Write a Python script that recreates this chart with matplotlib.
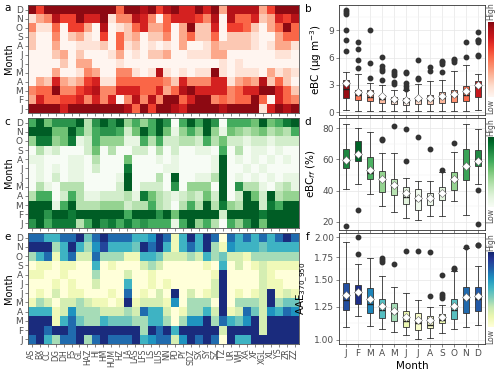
import numpy as np
import matplotlib
matplotlib.use("Agg")
import matplotlib.pyplot as plt
from matplotlib.colors import Normalize

sites = ["AS", "BX", "CC", "DG", "DH", "FS", "GL", "HAZ", "HJ", "HM", "HUM", "HZ",
         "LA", "LAS", "LFS", "LS", "LUS", "NN", "PD", "PY", "SDZ", "SX", "SY", "SZ",
         "TZ", "UR", "WH", "XA", "XF", "XGL", "XL", "YS", "ZR", "ZZ"]
months = ["J", "F", "M", "A", "M", "J", "J", "A", "S", "O", "N", "D"]

# heatmap intensity levels (0 = low ... 9 = high), rows listed Dec -> Jan
ebc_levels = [
    [9,6,9,9,9,9,9,9,9,9,9,5,9,9,8,9,6,8,9,7,7,9,7,9,3,8,8,8,8,3,6,9,9,9],
    [1,3,4,8,6,6,9,7,7,9,1,4,4,8,7,4,0,5,7,7,7,6,4,8,0,8,5,5,7,2,3,7,6,8],
    [4,1,1,5,0,6,6,3,0,8,0,1,2,5,7,3,3,5,0,3,9,2,2,7,0,6,6,5,2,0,3,5,9,5],
    [2,0,0,4,0,2,3,1,0,6,0,5,2,3,0,2,2,4,0,3,5,2,2,5,0,2,2,2,1,0,0,3,5,5],
    [2,0,0,3,0,0,1,1,1,2,0,5,1,2,0,1,0,1,0,3,0,0,1,3,2,2,2,2,1,0,1,3,3,1],
    [0,0,0,2,3,0,2,0,0,0,1,3,0,1,0,2,2,3,0,0,1,1,1,3,3,0,0,0,0,0,0,1,1,0],
    [0,0,0,0,2,0,3,3,0,0,0,1,0,0,0,0,0,0,0,0,0,0,0,0,1,0,1,0,0,0,0,0,0,0],
    [0,0,0,3,0,0,1,4,3,0,0,4,4,1,0,1,8,1,0,1,0,1,1,9,1,0,1,1,1,0,3,1,2,1],
    [0,3,2,7,3,2,3,6,7,1,1,5,5,5,5,5,5,4,2,7,4,4,4,7,7,1,3,4,3,8,2,5,2,0],
    [4,5,5,9,4,4,6,7,8,4,4,7,7,7,5,5,7,3,5,8,9,7,7,7,7,4,5,7,7,9,9,7,5,2],
    [3,7,5,5,6,6,7,4,7,4,7,0,4,8,4,8,4,9,9,5,7,9,9,4,5,4,5,5,9,5,0,7,5,4],
    [9,9,9,9,7,9,9,9,9,9,9,9,8,5,9,6,9,9,8,7,9,9,9,9,8,9,9,9,9,1,7,9,8,9],
]
ff_levels = [
    [6,9,5,7,7,7,9,3,7,9,7,9,4,6,4,6,9,7,0,6,9,6,9,7,0,6,6,6,5,9,5,6,8,9],
    [9,9,9,5,5,9,6,3,6,7,7,6,2,5,9,6,9,5,1,4,6,4,9,4,1,5,4,3,4,5,3,4,3,6],
    [4,8,8,4,5,8,1,2,6,4,4,4,1,1,6,3,6,2,2,3,3,2,6,3,5,2,2,1,2,2,1,2,2,2],
    [0,3,1,2,0,0,0,2,5,0,3,0,0,2,2,0,3,0,2,0,0,1,1,0,6,0,3,0,1,1,0,1,0,0],
    [1,1,0,0,0,1,1,0,3,0,0,0,5,0,0,0,1,0,1,0,0,0,0,1,9,0,1,0,1,0,1,0,1,0],
    [0,1,0,1,0,1,1,0,2,0,0,0,8,0,0,0,0,1,1,0,0,0,0,1,9,0,0,1,0,1,0,0,0,0],
    [0,1,0,2,0,1,1,0,0,0,0,1,9,0,0,0,3,0,9,0,0,1,1,3,9,0,1,0,1,0,1,0,1,1],
    [0,3,1,0,3,3,3,0,0,0,0,2,9,0,2,2,2,0,7,0,4,4,4,0,9,0,7,3,3,1,0,2,3,1],
    [3,6,6,0,2,6,3,1,1,2,2,2,3,1,8,5,3,2,1,2,3,2,5,2,9,0,2,9,5,2,9,3,4,4],
    [9,9,9,1,6,9,3,3,3,4,4,4,2,3,3,6,3,2,0,3,6,3,9,3,8,4,3,9,9,2,8,6,9,9],
    [9,9,7,9,9,8,9,9,9,9,9,9,6,9,9,9,7,9,5,9,9,9,9,9,2,9,9,9,9,8,9,9,9,9],
    [7,9,6,8,8,8,3,6,9,7,8,6,8,6,7,6,6,6,1,6,9,4,6,3,0,6,4,7,9,5,9,9,9,9],
]
aae_levels = [
    [7,7,5,5,7,7,9,4,7,9,7,7,7,5,5,6,9,7,1,5,9,5,9,7,0,7,5,7,5,7,5,7,9,7],
    [9,9,9,3,5,9,5,3,6,8,5,5,5,4,9,7,9,5,1,5,7,5,9,3,1,6,5,5,5,4,5,5,5,5],
    [3,5,7,1,5,7,2,2,7,3,3,3,1,1,5,5,4,2,2,2,3,2,5,3,4,2,2,1,3,3,3,3,3,3],
    [0,1,1,0,1,1,0,0,5,0,1,0,0,0,2,3,2,0,0,0,0,0,1,0,5,0,2,0,1,2,1,1,1,1],
    [1,1,0,0,1,0,0,0,3,0,0,0,2,0,0,1,0,0,0,0,0,0,0,1,9,0,0,0,0,2,1,0,0,0],
    [0,0,0,1,0,1,0,0,2,0,0,0,5,0,0,1,0,1,0,0,0,0,0,2,9,0,0,0,0,2,1,1,0,0],
    [0,1,0,2,0,1,1,0,0,0,1,0,7,0,1,0,2,0,9,0,2,0,1,2,9,0,1,0,1,2,9,1,2,1],
    [1,3,2,0,2,2,3,2,1,1,0,1,9,1,2,2,2,1,6,0,3,3,3,0,9,0,3,3,3,2,9,3,4,4],
    [5,5,5,1,2,6,3,3,3,2,2,2,3,2,7,5,5,2,0,1,3,3,5,2,9,1,2,7,4,2,6,5,7,6],
    [9,9,9,1,5,7,4,3,3,5,4,4,4,3,3,5,5,3,0,3,6,6,9,3,7,5,4,6,9,2,9,9,9,9],
    [9,9,7,9,9,7,9,9,9,9,9,9,9,9,3,9,7,9,5,9,9,9,9,9,2,9,9,9,9,2,9,9,9,9],
    [7,9,5,3,7,7,9,3,7,9,7,7,7,9,5,6,7,7,2,6,9,7,9,7,0,9,5,5,9,9,9,9,9,9],
]

# monthly box statistics, Jan -> Dec
ebc_med = [2.6, 1.9, 1.7, 1.5, 1.28, 1.15, 1.35, 1.4, 1.55, 1.75, 1.9, 2.75]
ebc_q1 = [1.54, 1.35, 1.25, 1.05, 0.9, 0.8, 0.9, 0.95, 1.0, 1.15, 1.25, 1.65]
ebc_q3 = [3.55, 2.5, 2.4, 1.9, 1.7, 1.55, 1.7, 1.95, 2.25, 2.5, 2.9, 3.4]
ebc_lo = [0.2, 0.15, 0.15, 0.15, 0.15, 0.15, 0.15, 0.15, 0.15, 0.15, 0.15, 0.2]
ebc_hi = [4.45, 4.2, 3.2, 3.0, 2.4, 2.4, 3.1, 3.4, 3.5, 4.55, 5.2, 4.2]
ebc_mean = [3.25, 2.25, 2.1, 1.75, 1.45, 1.3, 1.55, 1.6, 1.8, 2.05, 2.35, 2.95]
ebc_out = [[6.7, 7.9, 9.1, 10.8, 11.0, 11.2], [4.9, 5.8, 7.0, 7.7], [3.8, 5.4, 9.1],
           [3.6, 4.5, 4.8, 5.1, 6.1], [3.1, 3.3, 4.1, 4.3, 4.5], [2.6, 2.9, 3.2, 4.3, 4.4],
           [3.7, 3.8, 5.8], [4.5, 5.0], [4.4, 5.3, 5.5, 5.6], [5.5, 5.7, 5.9],
           [6.1, 7.7], [6.2, 6.3, 7.7, 7.9, 8.0, 8.8]]

ff_med = [60.4, 63.9, 51, 46.6, 44.5, 36, 33.8, 35, 38, 46.7, 55.7, 60]
ff_q1 = [54.6, 59.1, 47.7, 39.1, 37, 31.2, 27.7, 31, 33.8, 40.2, 47.1, 55.7]
ff_q3 = [66.7, 71.8, 61.7, 52.7, 47.7, 42.4, 41.3, 38.5, 42.4, 52, 66.5, 66]
ff_lo = [41.3, 44.5, 38, 30.1, 26.2, 22.4, 20.8, 23.6, 23.6, 33.1, 24.1, 44.5]
ff_hi = [82.8, 80, 77.8, 63.9, 64, 48.4, 46.2, 46.2, 52, 65, 82.8, 79.4]
ff_mean = [59.5, 63.8, 53.5, 47.5, 43.6, 38.2, 35.3, 35.5, 38.2, 47.3, 55.5, 59]
ff_out = [[17.5], [27.5], [], [72.3, 73.0], [81.3], [59.1, 79.6], [74.2], [66.9],
          [53.5], [70.6], [], [40.2, 18.7]]

aae_med = [1.309, 1.363, 1.274, 1.224, 1.197, 1.137, 1.123, 1.106, 1.144, 1.224, 1.323, 1.315]
aae_q1 = [1.224, 1.274, 1.197, 1.157, 1.137, 1.089, 1.07, 1.082, 1.119, 1.152, 1.2, 1.218]
aae_q3 = [1.47, 1.448, 1.416, 1.315, 1.28, 1.218, 1.197, 1.175, 1.191, 1.323, 1.426, 1.426]
aae_lo = [1.089, 1.175, 1.099, 1.075, 1.053, 1.034, 1.005, 1.012, 1.046, 1.075, 1.089, 1.106]
aae_hi = [1.94, 1.668, 1.745, 1.54, 1.431, 1.369, 1.309, 1.251, 1.266, 1.594, 1.866, 1.645]
aae_mean = [1.354, 1.384, 1.315, 1.26, 1.218, 1.165, 1.144, 1.144, 1.165, 1.257, 1.333, 1.345]
aae_out = [[], [1.784, 2.0], [], [1.69, 1.72, 1.745], [1.675], [1.82], [1.82],
           [1.345, 1.81], [1.33, 1.345, 1.36, 1.55], [1.62, 1.63], [1.87], [1.896, 1.9]]

fig = plt.figure(figsize=(5, 3.74), dpi=100)
W, H = 500.0, 374.0


def px_axes(x0, y0, x1, y1):
    return fig.add_axes([x0 / W, 1 - y1 / H, (x1 - x0) / W, (y1 - y0) / H])


tick_col = "#4d4d4d"
edge_col = "#333333"


def heatmap(ax, levels, cmap, letter, show_x):
    data = np.array(levels[::-1], dtype=float) / 9.0 * 0.92
    ax.imshow(data, cmap=cmap, vmin=0, vmax=1, aspect="auto", origin="lower",
              interpolation="nearest")
    ax.set_yticks(range(12))
    ax.set_yticklabels(months, fontsize=6.5, color=tick_col)
    ax.set_xticks(range(len(sites)))
    if show_x:
        ax.set_xticklabels(sites, rotation=90, fontsize=5.6, color=tick_col)
    else:
        ax.set_xticklabels([])
    ax.tick_params(length=2, width=0.5, color="#555555", pad=1.5)
    ax.set_ylabel("Month", fontsize=7, labelpad=1)
    for s in ax.spines.values():
        s.set_color("#555555")
        s.set_linewidth(0.6)
    ax.text(-0.075, 0.94, letter, transform=ax.transAxes, fontsize=7.5, ha="center")


def boxpanel(ax, cax, med, q1, q3, lo, hi, mean, out, cmap, letter, ylabel):
    stats = []
    for i in range(12):
        stats.append(dict(med=med[i], q1=q1[i], q3=q3[i], whislo=lo[i], whishi=hi[i],
                          mean=mean[i], fliers=out[i]))
    pos = np.arange(1, 13)
    bp = ax.bxp(stats, positions=pos, widths=0.5, capwidths=0.45, patch_artist=True,
                showmeans=True, showfliers=True,
                boxprops=dict(edgecolor=edge_col, linewidth=0.6),
                whiskerprops=dict(color=edge_col, linewidth=0.6),
                capprops=dict(color=edge_col, linewidth=0.6),
                medianprops=dict(color="#222222", linewidth=1.0),
                meanprops=dict(marker="D", markerfacecolor="white",
                               markeredgecolor="#666666", markeredgewidth=0.4,
                               markersize=3.8),
                flierprops=dict(marker="o", markerfacecolor="#333333",
                                markeredgecolor="#333333", markersize=3.2))
    norm = Normalize(min(mean), max(mean))
    for patch, m in zip(bp["boxes"], mean):
        patch.set_facecolor(cmap(0.05 + 0.85 * norm(m)))
    ax.set_xlim(0.4, 12.6)
    ax.set_xticks(pos)
    ax.grid(True, which="major", color="#e6e6e6", linewidth=0.5)
    ax.grid(True, which="minor", axis="y", color="#f2f2f2", linewidth=0.35)
    ax.set_axisbelow(True)
    for s in ax.spines.values():
        s.set_color(edge_col)
        s.set_linewidth(0.6)
    ax.tick_params(length=2, width=0.5, color="#555555", labelsize=6.5,
                   labelcolor=tick_col, pad=1.5)
    ax.tick_params(which="minor", length=0)
    ax.set_ylabel(ylabel, fontsize=7.5, labelpad=3)
    ax.text(-0.21, 0.94, letter, transform=ax.transAxes, fontsize=7.5, ha="center")
    grad = np.linspace(0, 1, 100).reshape(-1, 1)
    cax.imshow(grad, cmap=cmap, origin="lower", aspect="auto", vmin=0, vmax=1.05)
    cax.set_xticks([])
    cax.set_yticks([])
    for s in cax.spines.values():
        s.set_visible(False)
    cax.text(0.5, 1.02, "High", transform=cax.transAxes, rotation=90, fontsize=5.5,
             ha="center", va="bottom", color=tick_col)
    cax.text(0.5, -0.02, "Low", transform=cax.transAxes, rotation=90, fontsize=5.5,
             ha="center", va="top", color=tick_col)


reds = plt.get_cmap("Reds")
greens = plt.get_cmap("Greens")
ylgnbu = plt.get_cmap("YlGnBu")

ax_a = px_axes(27.7, 5, 298.5, 113)
ax_c = px_axes(27.7, 118, 298.5, 228)
ax_e = px_axes(27.7, 233, 298.5, 344)
heatmap(ax_a, ebc_levels, reds, "a", False)
heatmap(ax_c, ff_levels, greens, "c", False)
heatmap(ax_e, aae_levels, ylgnbu, "e", True)

ax_b = px_axes(338.8, 5, 485, 115)
ax_d = px_axes(338.8, 118, 485, 230)
ax_f = px_axes(338.8, 233, 485, 344)
cax_b = px_axes(488, 22, 494, 97)
cax_d = px_axes(488, 137, 494, 207)
cax_f = px_axes(488, 252, 494, 327)

boxpanel(ax_b, cax_b, ebc_med, ebc_q1, ebc_q3, ebc_lo, ebc_hi, ebc_mean, ebc_out,
         reds, "b", "eBC (\u03bcg m$^{-3}$)")
ax_b.set_ylim(-0.3, 11.8)
ax_b.set_yticks([0, 3, 6, 9])
ax_b.set_yticks([1.5, 4.5, 7.5, 10.5], minor=True)
ax_b.set_xticklabels([])

boxpanel(ax_d, cax_d, ff_med, ff_q1, ff_q3, ff_lo, ff_hi, ff_mean, ff_out,
         greens, "d", "eBC$_{ff}$ (%)")
ax_d.set_ylim(14.7, 86.6)
ax_d.set_yticks([20, 40, 60, 80])
ax_d.set_yticks([30, 50, 70], minor=True)
ax_d.set_xticklabels([])

boxpanel(ax_f, cax_f, aae_med, aae_q1, aae_q3, aae_lo, aae_hi, aae_mean, aae_out,
         ylgnbu, "f", "AAE$_{370\\_950}$")
ax_f.set_yscale("log")
ax_f.set_ylim(0.973, 2.06)
ax_f.set_yticks([1.0, 1.25, 1.5, 1.75, 2.0])
ax_f.set_yticklabels(["1.00", "1.25", "1.50", "1.75", "2.00"])
ax_f.set_yticks([1.118, 1.369, 1.620, 1.871], minor=True)
ax_f.yaxis.set_minor_formatter(plt.NullFormatter())
ax_f.set_xticklabels(months, fontsize=6.5, color=tick_col)
ax_f.set_xlabel("Month", fontsize=7.5, labelpad=2)

fig.savefig("out.png", dpi=100)
